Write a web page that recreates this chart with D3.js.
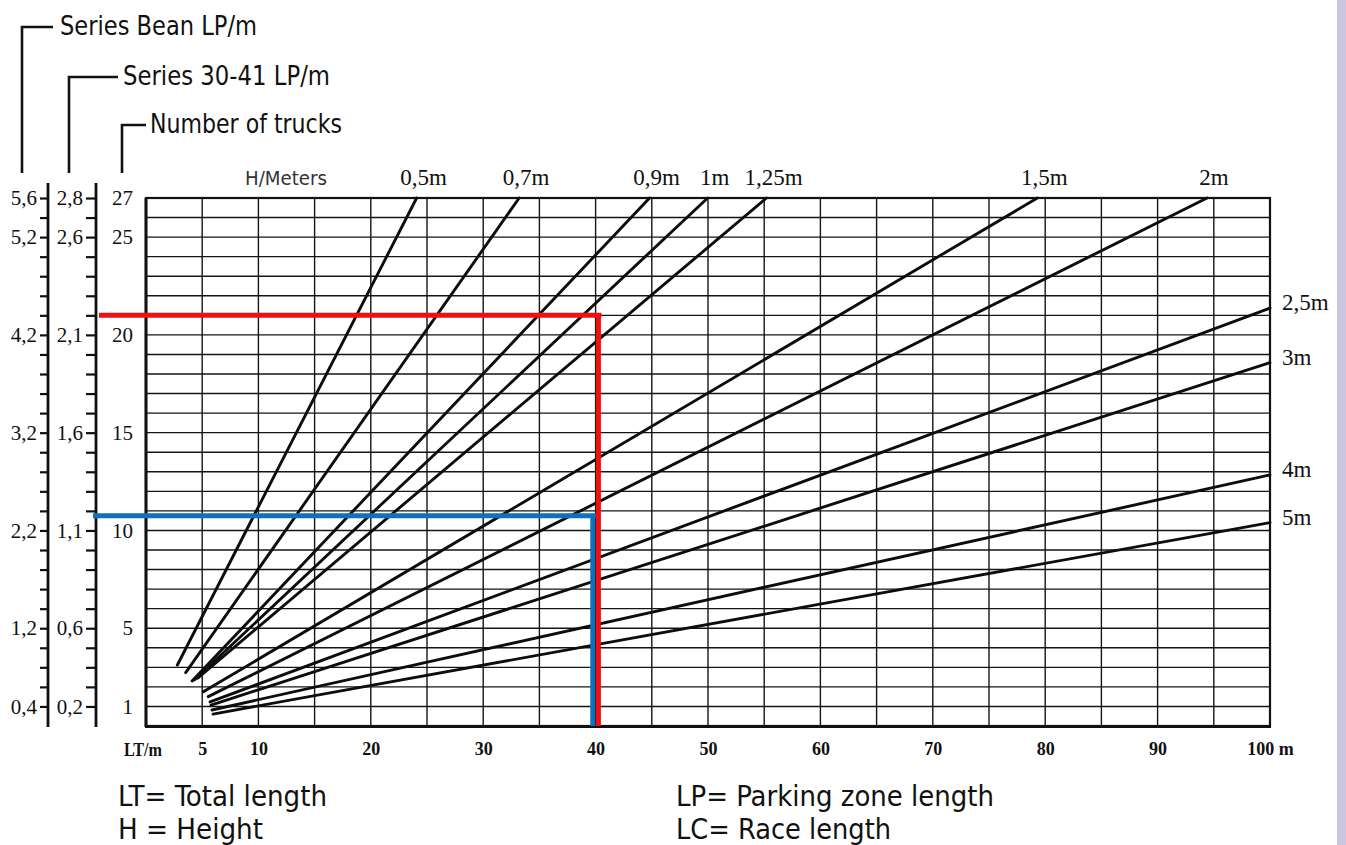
<!DOCTYPE html>
<html>
<head>
<meta charset="utf-8">
<script src="https://cdn.jsdelivr.net/npm/d3@7"></script>
<style>
  body { margin: 0; background: #fff; }
  svg { display: block; }
  .narrow { font-family: "Liberation Sans Narrow", "DejaVu Sans Condensed", "Liberation Sans", sans-serif; fill: #111; }
  .serif { font-family: "Liberation Serif", "DejaVu Serif", serif; fill: #111; }
</style>
</head>
<body>
<svg id="chart" width="1346" height="845"></svg>
<script>
// --- values ---
const truckTicks = [1, 5, 10, 15, 20, 25, 27];
const beanLabels = ["0,4", "1,2", "2,2", "3,2", "4,2", "5,2", "5,6"];
const seriesLabels = ["0,2", "0,6", "1,1", "1,6", "2,1", "2,6", "2,8"];
const ltTicks = [5, 10, 20, 30, 40, 50, 60, 70, 80, 90, 100];
const ltLabels = ["5", "10", "20", "30", "40", "50", "60", "70", "80", "90", "100 m"];

// one straight line per height H, from its start point to where it leaves the grid
const heights = ["0,5m", "0,7m", "0,9m", "1m", "1,25m", "1,5m", "2m", "2,5m", "3m", "4m", "5m"];
const startLT = [2.79, 3.53, 4.1, 4.3, 4.6, 5.1, 5.54, 5.7, 5.78, 5.87, 5.96];
const startTrucks = [3.12, 2.73, 2.3, 2.35, 2.45, 1.75, 1.5, 1.23, 1.07, 0.82, 0.61];
const endLT = [24.08, 33.2, 44.8, 49.97, 55.2, 79.3, 94.4, 100, 100, 100, 100];
const endTrucks = [27, 27, 27, 27, 27, 27, 27, 21.37, 18.58, 12.84, 10.4];

// reading examples (LT, trucks)
const redPoint = [40.25, 21];
const bluePoint = [39.75, 10.75];

const svg = d3.select('#chart');

const x = d3.scaleLinear().domain([0, 100]).range([146, 1270]);
const y = d3.scaleLinear().domain([0, 27]).range([726, 198]);

const beanX = 48;
const seriesX = 96;

// lavender strip at the right edge
svg.append('rect')
  .attr('x', 1337).attr('y', 0).attr('width', 9).attr('height', 845)
  .attr('fill', '#ccc5df');

// grid
const grid = svg.append('g').attr('stroke', '#151515').attr('stroke-width', 1.4);
grid.selectAll('.h').data(d3.range(1, 27)).enter().append('line')
  .attr('x1', x(0)).attr('x2', x(100))
  .attr('y1', d => y(d)).attr('y2', d => y(d));
grid.selectAll('.v').data(d3.range(5, 100, 5)).enter().append('line')
  .attr('y1', y(0)).attr('y2', y(27))
  .attr('x1', d => x(d)).attr('x2', d => x(d));

// frame
svg.append('rect')
  .attr('x', x(0)).attr('y', y(27))
  .attr('width', x(100) - x(0)).attr('height', y(0) - y(27))
  .attr('fill', 'none').attr('stroke', '#111').attr('stroke-width', 2.2);
svg.append('line')
  .attr('x1', x(0) - 1).attr('x2', x(100) + 1)
  .attr('y1', y(0) + 0.5).attr('y2', y(0) + 0.5)
  .attr('stroke', '#111').attr('stroke-width', 3);
svg.append('line')
  .attr('x1', x(0)).attr('x2', x(0))
  .attr('y1', y(27)).attr('y2', y(0) + 1)
  .attr('stroke', '#111').attr('stroke-width', 3);

// H lines
const lineGen = d3.line().x(d => x(d[0])).y(d => y(d[1]));
const hLines = heights.map((h, i) => ({
  label: h,
  pts: [[startLT[i], startTrucks[i]], [endLT[i], endTrucks[i]]]
}));

svg.append('g').selectAll('path').data(hLines).enter().append('path')
  .attr('d', d => lineGen(d.pts))
  .attr('fill', 'none')
  .attr('stroke', '#0d0d0d')
  .attr('stroke-width', 2.9)
  .attr('stroke-linecap', 'round');

// labels at the top
svg.append('g').selectAll('text')
  .data(hLines.filter(d => d.pts[1][1] >= 27)).enter().append('text')
  .attr('class', 'serif')
  .attr('x', d => x(d.pts[1][0]) + 7)
  .attr('y', y(27) - 13)
  .attr('text-anchor', 'middle')
  .attr('font-size', 23)
  .text(d => d.label);

// labels at the right
svg.append('g').selectAll('text')
  .data(hLines.filter(d => d.pts[1][1] < 27)).enter().append('text')
  .attr('class', 'serif')
  .attr('x', x(100) + 12)
  .attr('y', d => y(d.pts[1][1]) + 2)
  .attr('font-size', 23)
  .text(d => d.label);

// left axes
function leftAxis(px, labels, size, pad) {
  const ax = d3.axisLeft(y)
    .tickValues(d3.range(1, 28))
    .tickSize(size)
    .tickPadding(pad)
    .tickFormat(v => {
      const k = truckTicks.indexOf(v);
      return k >= 0 ? labels[k] : '';
    });
  const g = svg.append('g').attr('transform', `translate(${px},0)`).call(ax);
  g.select('.domain').remove();
  g.selectAll('.tick line').attr('stroke', '#111').attr('stroke-width', 2.2);
  g.selectAll('.tick text')
    .attr('class', 'serif')
    .attr('font-size', 21)
    .attr('fill', '#111');
  g.append('line')
    .attr('x1', 0).attr('x2', 0)
    .attr('y1', y(27) - 15).attr('y2', y(0) + 1)
    .attr('stroke', '#111').attr('stroke-width', 2.8);
  return g;
}
leftAxis(beanX, beanLabels, 8, 3);
leftAxis(seriesX, seriesLabels, 10, 3);

// trucks axis (the frame edge)
const truckAxis = d3.axisLeft(y).tickValues(truckTicks).tickSize(0).tickPadding(13);
const tg = svg.append('g').attr('transform', `translate(${x(0)},0)`).call(truckAxis);
tg.select('.domain').remove();
tg.selectAll('.tick text').attr('class', 'serif').attr('font-size', 21).attr('fill', '#111');

// bottom axis
const ltAxis = d3.axisBottom(x).tickValues(ltTicks).tickSize(0).tickPadding(16)
  .tickFormat((v, i) => ltLabels[i]);
const bg = svg.append('g').attr('transform', `translate(0,${y(0)})`).call(ltAxis);
bg.select('.domain').remove();
bg.selectAll('.tick text')
  .attr('class', 'serif')
  .attr('font-size', 18)
  .attr('font-weight', 'bold')
  .attr('fill', '#111');
svg.append('text')
  .attr('class', 'serif')
  .attr('x', 162).attr('y', 756)
  .attr('text-anchor', 'end')
  .attr('font-size', 18).attr('font-weight', 'bold')
  .attr('textLength', 38)
  .attr('lengthAdjust', 'spacingAndGlyphs')
  .text('LT/m');

// reading examples
function readLine(pt, color, leftX, dx) {
  const px = x(pt[0]);
  const py = y(pt[1]);
  svg.append('path')
    .attr('d', `M${leftX},${py} H${px + dx} M${px},${py} V${y(0)}`)
    .attr('fill', 'none')
    .attr('stroke', color)
    .attr('stroke-width', 5);
}
readLine(bluePoint, '#1070c0', seriesX - 3, 3);
readLine(redPoint, '#f01010', seriesX + 3, 3);

// bracket titles for the three vertical scales
const titles = [
  { text: 'Series Bean LP/m', bx: 22, ty: 27, hx: 53, tx: 60, len: 197 },
  { text: 'Series 30-41 LP/m', bx: 69, ty: 77, hx: 118, tx: 123, len: 207 },
  { text: 'Number of trucks', bx: 122, ty: 125, hx: 146, tx: 150, len: 192 }
];
titles.forEach(t => {
  svg.append('path')
    .attr('d', `M${t.bx},173 V${t.ty} H${t.hx}`)
    .attr('fill', 'none').attr('stroke', '#111').attr('stroke-width', 2.6);
  svg.append('text')
    .attr('class', 'narrow')
    .attr('x', t.tx).attr('y', t.ty + 8)
    .attr('font-size', 27)
    .attr('textLength', t.len)
    .attr('lengthAdjust', 'spacingAndGlyphs')
    .text(t.text);
});

svg.append('text')
  .attr('class', 'narrow')
  .attr('x', 245).attr('y', 185)
  .attr('font-size', 19)
  .style('fill', '#333')
  .attr('textLength', 82)
  .attr('lengthAdjust', 'spacingAndGlyphs')
  .text('H/Meters');

// legend of abbreviations
const notes = [
  { text: 'LT= Total length', x: 118, y: 806, len: 209 },
  { text: 'H = Height', x: 118, y: 839, len: 145 },
  { text: 'LP= Parking zone length', x: 676, y: 806, len: 318 },
  { text: 'LC= Race length', x: 676, y: 839, len: 215 }
];
svg.append('g').selectAll('text').data(notes).enter().append('text')
  .attr('class', 'narrow')
  .attr('x', d => d.x).attr('y', d => d.y)
  .attr('font-size', 28)
  .attr('textLength', d => d.len)
  .attr('lengthAdjust', 'spacingAndGlyphs')
  .text(d => d.text);
</script>
</body>
</html>
